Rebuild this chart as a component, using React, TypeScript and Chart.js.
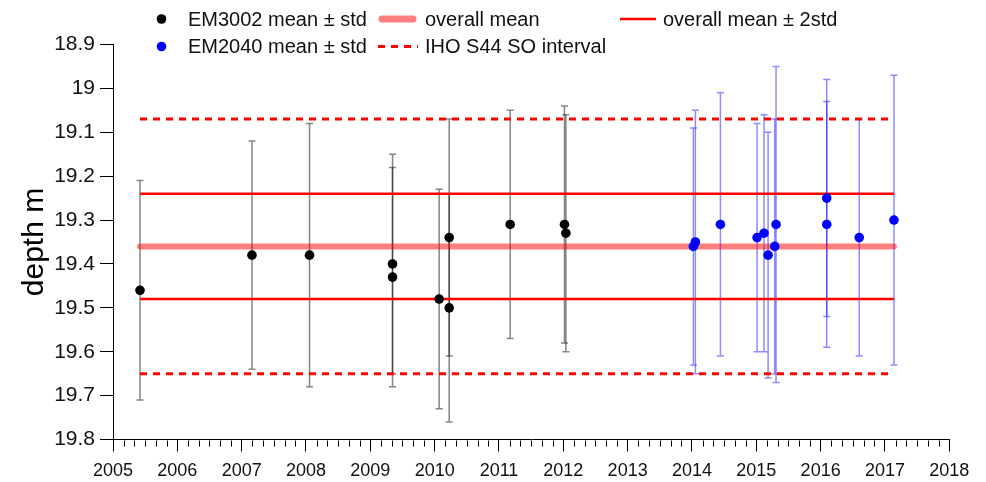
import React, { useEffect, useRef } from 'react';
import { Chart, registerables } from 'chart.js';

Chart.register(...registerables);

// ---------- data ----------
const em3002Years = [2005.42, 2007.16, 2008.055, 2009.345, 2009.345, 2010.07, 2010.226, 2010.226, 2011.174, 2012.018, 2012.04];
const em3002Means = [19.46, 19.38, 19.38, 19.40, 19.43, 19.48, 19.34, 19.50, 19.31, 19.31, 19.33];
const em3002Std = [0.25, 0.26, 0.30, 0.25, 0.25, 0.25, 0.27, 0.26, 0.26, 0.27, 0.27];

const em2040Years = [2014.022, 2014.053, 2014.442, 2015.012, 2015.12, 2015.183, 2015.287, 2015.307, 2016.095, 2016.095, 2016.6, 2017.14];
const em2040Means = [19.36, 19.35, 19.31, 19.34, 19.33, 19.38, 19.36, 19.31, 19.25, 19.31, 19.34, 19.30];
const em2040Std = [0.27, 0.30, 0.30, 0.26, 0.27, 0.28, 0.29, 0.36, 0.27, 0.28, 0.27, 0.33];

const overallMean = 19.36;
const twoStd = 0.12;
const ihoHalfInterval = 0.29;

const xTickYears = [2005, 2006, 2007, 2008, 2009, 2010, 2011, 2012, 2013, 2014, 2015, 2016, 2017, 2018];
const yTickValues = [18.9, 19.0, 19.1, 19.2, 19.3, 19.4, 19.5, 19.6, 19.7, 19.8];
const minorTicksPerYear = 6;

const seriesLabels = ['EM3002 mean ± std', 'EM2040 mean ± std', 'overall mean', 'IHO S44 SO interval', 'overall mean ± 2std'];
const yAxisTitle = 'depth m';

const FONT = "'Liberation Sans', Arial, sans-serif";

const allYears = [...em3002Years, ...em2040Years];
const lineStart = Math.min(...allYears);
const lineEnd = Math.max(...allYears);
const hLine = (v: number) => [
  { x: lineStart, y: v },
  { x: lineEnd, y: v },
];

const errorBarPlugin = {
  id: 'errorBars',
  beforeDatasetsDraw(chart: any) {
    const { ctx, scales } = chart;
    const x = scales.x;
    const y = scales.y;
    const groups = [
      { years: em3002Years, means: em3002Means, std: em3002Std, color: 'rgba(0,0,0,0.48)' },
      { years: em2040Years, means: em2040Means, std: em2040Std, color: 'rgba(0,0,255,0.45)' },
    ];
    ctx.save();
    ctx.lineWidth = 1.5;
    for (const g of groups) {
      for (let i = 0; i < g.years.length; i++) {
        const px = x.getPixelForValue(g.years[i]);
        const pt = y.getPixelForValue(g.means[i] - g.std[i]);
        const pb = y.getPixelForValue(g.means[i] + g.std[i]);
        ctx.strokeStyle = g.color;
        ctx.beginPath();
        ctx.moveTo(px, pt);
        ctx.lineTo(px, pb);
        ctx.moveTo(px - 3.5, pt);
        ctx.lineTo(px + 3.5, pt);
        ctx.moveTo(px - 3.5, pb);
        ctx.lineTo(px + 3.5, pb);
        ctx.stroke();
      }
    }
    ctx.restore();
  },
};

const minorTickPlugin = {
  id: 'minorTicks',
  afterDraw(chart: any) {
    const { ctx, chartArea } = chart;
    const x = chart.scales.x;
    const bottom = Math.round(chartArea.bottom) + 0.5;
    ctx.save();
    ctx.strokeStyle = '#000';
    ctx.lineWidth = 1;
    ctx.beginPath();
    for (let i = 0; i < xTickYears.length - 1; i++) {
      for (let k = 1; k < minorTicksPerYear; k++) {
        const px = Math.round(x.getPixelForValue(xTickYears[i] + k / minorTicksPerYear)) + 0.5;
        ctx.moveTo(px, bottom);
        ctx.lineTo(px, bottom + 6);
      }
    }
    ctx.stroke();
    ctx.restore();
  },
};

const legendPlugin = {
  id: 'customLegend',
  afterDraw(chart: any) {
    const { ctx } = chart;
    const r1 = 19;
    const r2 = 46.5;
    ctx.save();
    ctx.font = `20px ${FONT}`;
    ctx.textBaseline = 'middle';
    ctx.textAlign = 'left';

    // markers
    ctx.fillStyle = '#000';
    ctx.beginPath();
    ctx.arc(161.5, r1, 4.8, 0, Math.PI * 2);
    ctx.fill();
    ctx.fillStyle = '#0000ff';
    ctx.beginPath();
    ctx.arc(161.5, r2, 4.8, 0, Math.PI * 2);
    ctx.fill();

    // overall mean
    ctx.strokeStyle = 'rgba(255,0,0,0.5)';
    ctx.lineWidth = 7;
    ctx.lineCap = 'round';
    ctx.beginPath();
    ctx.moveTo(382, r1);
    ctx.lineTo(413, r1);
    ctx.stroke();

    // IHO dotted
    ctx.strokeStyle = '#ff0000';
    ctx.lineWidth = 3;
    ctx.lineCap = 'butt';
    ctx.setLineDash([7, 6]);
    ctx.beginPath();
    ctx.moveTo(378, r2);
    ctx.lineTo(418, r2);
    ctx.stroke();
    ctx.setLineDash([]);

    // mean +- 2std
    ctx.lineWidth = 2.5;
    ctx.beginPath();
    ctx.moveTo(620, r1);
    ctx.lineTo(656, r1);
    ctx.stroke();

    ctx.fillStyle = '#111';
    ctx.fillText(seriesLabels[0], 188, r1 + 1);
    ctx.fillText(seriesLabels[1], 188, r2 + 1);
    ctx.fillText(seriesLabels[2], 425, r1 + 1);
    ctx.fillText(seriesLabels[3], 425, r2 + 1);
    ctx.fillText(seriesLabels[4], 663, r1 + 1);
    ctx.restore();
  },
};

export default function App() {
  const canvasRef = useRef<HTMLCanvasElement | null>(null);

  useEffect(() => {
    const canvas = canvasRef.current;
    if (!canvas) return;
    const chart = new Chart(canvas, {
      type: 'scatter',
      data: {
        datasets: [
          {
            label: seriesLabels[0],
            data: em3002Years.map((x, i) => ({ x, y: em3002Means[i] })),
            backgroundColor: '#000',
            borderColor: '#000',
            pointRadius: 4.8,
            pointBorderWidth: 0,
          },
          {
            label: seriesLabels[1],
            data: em2040Years.map((x, i) => ({ x, y: em2040Means[i] })),
            backgroundColor: '#0000ff',
            borderColor: '#0000ff',
            pointRadius: 4.8,
            pointBorderWidth: 0,
          },
          {
            label: seriesLabels[4] + ' upper',
            data: hLine(overallMean - twoStd),
            showLine: true,
            borderColor: '#ff0000',
            borderWidth: 2.5,
            pointRadius: 0,
          },
          {
            label: seriesLabels[4] + ' lower',
            data: hLine(overallMean + twoStd),
            showLine: true,
            borderColor: '#ff0000',
            borderWidth: 2.5,
            pointRadius: 0,
          },
          {
            label: seriesLabels[3] + ' upper',
            data: hLine(overallMean - ihoHalfInterval),
            showLine: true,
            borderColor: '#ff0000',
            borderWidth: 3,
            borderDash: [7, 6],
            pointRadius: 0,
          },
          {
            label: seriesLabels[3] + ' lower',
            data: hLine(overallMean + ihoHalfInterval),
            showLine: true,
            borderColor: '#ff0000',
            borderWidth: 3,
            borderDash: [7, 6],
            pointRadius: 0,
          },
          {
            label: seriesLabels[2],
            data: hLine(overallMean),
            showLine: true,
            borderColor: 'rgba(255,0,0,0.5)',
            borderWidth: 6,
            borderCapStyle: 'round',
            pointRadius: 0,
          },
        ] as any,
      },
      options: {
        responsive: false,
        animation: false,
        events: [],
        layout: { padding: { left: 0, top: 44.5, right: 36.7, bottom: 0 } },
        plugins: {
          legend: { display: false },
          tooltip: { enabled: false },
        },
        scales: {
          x: {
            type: 'linear',
            min: xTickYears[0],
            max: xTickYears[xTickYears.length - 1],
            afterFit: (scale: any) => {
              scale.height = 42.5;
            },
            afterBuildTicks: (scale: any) => {
              scale.ticks = xTickYears.map((v) => ({ value: v }));
            },
            ticks: {
              autoSkip: false,
              maxRotation: 0,
              padding: 9,
              color: '#111',
              font: { family: FONT, size: 18 },
              callback: (v: any) => String(v),
            },
            grid: {
              drawOnChartArea: false,
              drawTicks: true,
              tickLength: 12,
              tickColor: '#000',
              tickWidth: 1,
            },
            border: { display: true, color: '#000', width: 1 },
          },
          y: {
            type: 'linear',
            reverse: true,
            min: yTickValues[0],
            max: yTickValues[yTickValues.length - 1],
            afterFit: (scale: any) => {
              scale.width = 113;
            },
            afterBuildTicks: (scale: any) => {
              scale.ticks = yTickValues.map((v) => ({ value: v }));
            },
            ticks: {
              autoSkip: false,
              padding: 5,
              color: '#111',
              font: { family: FONT, size: 21 },
              callback: (v: any) => String(Math.round(Number(v) * 10) / 10),
            },
            grid: {
              drawOnChartArea: false,
              drawTicks: true,
              tickLength: 13,
              tickColor: '#000',
              tickWidth: 1,
            },
            border: { display: true, color: '#000', width: 1 },
            title: {
              display: true,
              text: yAxisTitle,
              color: '#000',
              font: { family: FONT, size: 30 },
              padding: { top: 17, bottom: 0 },
            },
          },
        },
      },
      plugins: [errorBarPlugin, minorTickPlugin, legendPlugin],
    } as any);
    return () => chart.destroy();
  }, []);

  return (
    <div style={{ position: 'absolute', left: 0, top: 0, width: 986, height: 482, background: '#fff' }}>
      <canvas ref={canvasRef} width={986} height={482} style={{ display: 'block' }} />
    </div>
  );
}
